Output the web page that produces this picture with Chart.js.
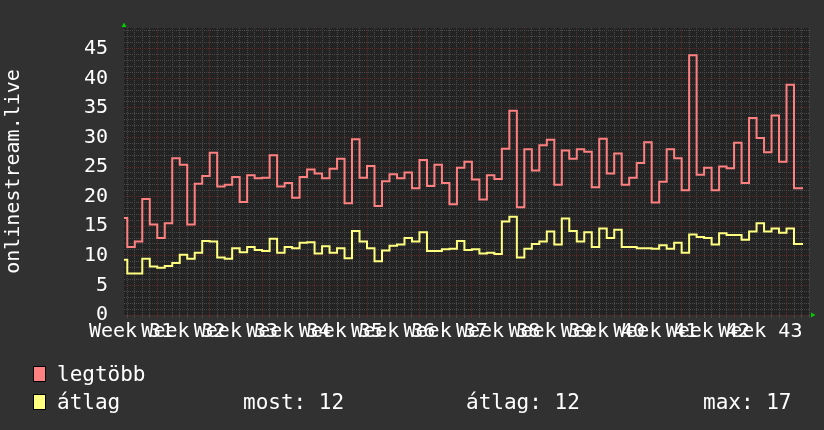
<!DOCTYPE html>
<html>
<head>
<meta charset="utf-8">
<script src="https://cdn.jsdelivr.net/npm/chart.js@4.4.0/dist/chart.umd.min.js"></script>
<style>
  html, body { margin: 0; padding: 0; background: #313131; }
  #wrap { position: relative; width: 824px; height: 430px; overflow: hidden; }
  #chart { position: absolute; left: 0; top: 0; }
  .txt { position: absolute; font-family: "DejaVu Sans Mono", monospace; font-size: 21px; line-height: 21px; color: #fff; white-space: pre; }
  .sw { position: absolute; width: 11px; height: 14px; border: 1px solid #000; }
</style>
</head>
<body>
<div id="wrap">
  <canvas id="chart" width="824" height="430"></canvas>
  <div class="sw" style="left:33px; top:366px; background:#ff8080"></div>
  <div class="txt" style="left:57px; top:364px">legtöbb</div>
  <div class="sw" style="left:33px; top:394px; background:#ffff80"></div>
  <div class="txt" style="left:57px; top:392px">átlag</div>
  <div class="txt" style="left:243px; top:392px">most: 12</div>
  <div class="txt" style="left:466px; top:392px">átlag: 12</div>
  <div class="txt" style="left:703px; top:392px">max: 17</div>
</div>
<script>
// daily values, first entry is the partial day before day 0
const legtobb = [16.4, 11.5, 12.4, 19.6, 15.3, 13.0, 15.5, 26.5, 25.4, 15.3, 22.2, 23.5, 27.4, 21.7, 22.0, 23.3,
  19.1, 23.6, 23.1, 23.2, 27.0, 21.7, 22.3, 19.8, 23.3, 24.6, 23.9, 23.1, 24.7, 26.4,
  18.9, 29.7, 23.2, 25.2, 18.4, 22.6, 23.8, 23.1, 24.1, 21.4, 26.2, 21.8, 25.4, 22.3, 18.7,
  24.9, 25.9, 22.9, 19.5, 23.6, 23.0, 28.1, 34.5, 18.2, 28.0, 24.4, 28.7, 29.6, 22.0, 27.8,
  26.4, 28.0, 27.6, 21.6, 29.8, 23.9, 27.3, 22.0, 23.2, 25.7, 29.2, 19.0, 22.5, 28.0, 26.5, 21.1,
  43.9, 23.7, 24.9, 21.1, 25.1, 24.8, 29.1, 22.3, 33.3, 29.9, 27.5, 33.7, 25.9, 38.9, 21.4];
const atlag = [9.35, 7.0, 7.0, 9.5, 8.2, 8.0, 8.3, 8.8, 10.2, 9.5, 10.5, 12.5, 12.4, 9.7, 9.5, 11.3,
  10.6, 11.5, 11.0, 10.8, 12.9, 10.5, 11.5, 11.3, 12.2, 12.3, 10.4, 11.6, 10.5, 11.3,
  9.6, 14.2, 12.4, 11.3, 9.1, 10.9, 11.7, 11.9, 13.0, 12.4, 14.0, 10.8, 10.8, 11.1, 11.2,
  12.5, 11.0, 11.1, 10.4, 10.5, 10.3, 15.8, 16.6, 9.7, 11.2, 12.0, 12.4, 14.1, 11.9, 16.3,
  14.2, 12.4, 14.0, 11.5, 14.6, 13.0, 14.4, 11.5, 11.5, 11.3, 11.3, 11.2, 11.8, 11.2, 12.2, 10.5,
  13.6, 13.2, 13.0, 11.9, 13.8, 13.5, 13.5, 12.7, 14.1, 15.5, 14.1, 14.6, 13.9, 14.6, 12.0];
const weekLabels = ['Week 31', 'Week 32', 'Week 33', 'Week 34', 'Week 35', 'Week 36', 'Week 37',
  'Week 38', 'Week 39', 'Week 40', 'Week 41', 'Week 42', 'Week 43'];
const yTicks = [0, 5, 10, 15, 20, 25, 30, 35, 40, 45];

const firstDay = -1;     // day of the first value
const dataEnd = 90.2;    // where the last step stops
const xMin = -0.44, xMax = 91.0;
const weekStart = 4;     // first week boundary (monday) in days
const yMax = 48.5;

function toPoints(vals) {
  const pts = vals.map((v, i) => ({ x: firstDay + i, y: v }));
  pts.push({ x: dataEnd, y: vals[vals.length - 1] });
  return pts;
}

const font = { family: 'DejaVu Sans Mono', size: 20 };
const minorGrid = '#4a4a4a';
const majorGrid = '#5e2a2a';

const plotBg = {
  id: 'plotBg',
  beforeDraw(chart) {
    const a = chart.chartArea, c = chart.ctx;
    c.save();
    c.fillStyle = '#232323';
    c.fillRect(a.left, a.top, a.right - a.left, a.bottom - a.top);
    c.restore();
  },
  afterDraw(chart) {
    const a = chart.chartArea, c = chart.ctx;
    c.save();
    c.fillStyle = '#00cc00';
    c.beginPath();
    c.moveTo(a.left - 2.5, a.top - 1);
    c.lineTo(a.left + 2.5, a.top - 1);
    c.lineTo(a.left, a.top - 5.5);
    c.fill();
    c.beginPath();
    c.moveTo(a.right + 2, a.bottom - 2.5);
    c.lineTo(a.right + 2, a.bottom + 2.5);
    c.lineTo(a.right + 6.5, a.bottom);
    c.fill();
    c.restore();
  }
};

function xGridColor(ctx) {
  const v = ctx.tick.value;
  if (!Number.isInteger(v)) return 'rgba(0,0,0,0)';
  return (v - weekStart) % 7 === 0 ? majorGrid : minorGrid;
}

new Chart(document.getElementById('chart'), {
  type: 'line',
  data: {
    datasets: [
      { label: 'legtöbb', data: toPoints(legtobb), borderColor: '#ff8080', borderWidth: 2, pointRadius: 0, stepped: true },
      { label: 'átlag', data: toPoints(atlag), borderColor: '#ffff80', borderWidth: 2, pointRadius: 0, stepped: true }
    ]
  },
  options: {
    responsive: false,
    animation: false,
    layout: { padding: { top: 14, right: 15, left: 0, bottom: 0 } },
    plugins: { legend: { display: false }, tooltip: { enabled: false } },
    scales: {
      x: {
        type: 'linear', min: xMin, max: xMax,
        afterBuildTicks(scale) {
          const t = [];
          for (let d = 0; d <= Math.floor(xMax); d++) t.push({ value: d });
          weekLabels.forEach((l, k) => t.push({ value: weekStart - 3.5 + 7 * k }));
          scale.ticks = t;
        },
        afterFit(scale) { scale.height = 115; },
        ticks: {
          autoSkip: false, maxRotation: 0, color: '#fff', font: font, padding: 2,
          callback(v) {
            const k = (v - (weekStart - 3.5)) / 7;
            return Number.isInteger(k) && k >= 0 && k < weekLabels.length ? weekLabels[k] : '';
          }
        },
        grid: { drawTicks: true, tickLength: 3, color: xGridColor, tickColor: xGridColor },
        border: { display: false, dash: [1, 1] }
      },
      y: {
        min: 0, max: yMax,
        afterBuildTicks(scale) {
          const t = [];
          for (let v = 0; v <= Math.floor(yMax); v++) t.push({ value: v });
          scale.ticks = t;
        },
        afterFit(scale) { scale.width = 124; },
        ticks: {
          autoSkip: false, color: '#fff', font: font, padding: 16,
          callback(v) { return yTicks.includes(v) ? String(v) : ''; }
        },
        grid: {
          drawTicks: false,
          color(ctx) { return ctx.tick.value % 5 === 0 ? majorGrid : minorGrid; }
        },
        border: { display: false, dash: [1, 1] },
        title: { display: true, text: 'onlinestream.live', color: '#fff', font: font, padding: { top: 2, bottom: 0 } }
      }
    }
  },
  plugins: [plotBg]
});
</script>
</body>
</html>
